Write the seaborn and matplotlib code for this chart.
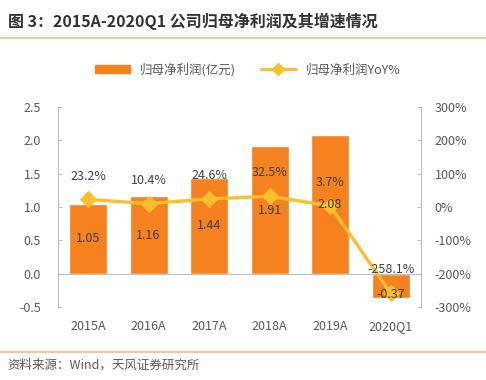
import numpy as np
import pandas as pd
import matplotlib
matplotlib.use("Agg")
import matplotlib.pyplot as plt
from matplotlib.ticker import FuncFormatter, MultipleLocator
from matplotlib.lines import Line2D
from matplotlib.patches import Patch
import seaborn as sns

years = ["2015A", "2016A", "2017A", "2018A", "2019A", "2020Q1"]
profit = [1.05, 1.16, 1.44, 1.91, 2.08, -0.37]
yoy = [23.2, 10.4, 24.6, 32.5, 3.7, -258.1]

BAR = "#F5821F"
LINE = "#FBBE2C"
GRAY = "#595959"
AXC = "#BFBFBF"

sns.set_style("white")
plt.rcParams["font.family"] = ["Noto Sans CJK SC", "DejaVu Sans"]

df = pd.DataFrame({"year": years, "profit": profit, "yoy": yoy})

fig = plt.figure(figsize=(4.86, 3.8), dpi=100)
ax = fig.add_axes([0.119, 0.192, 0.747, 0.526])

sns.barplot(data=df, x="year", y="profit", color=BAR, width=0.63,
            saturation=1, ax=ax)
ax.set_xlim(-0.5, 5.5)
ax.set_ylim(-0.5, 2.5)
ax.yaxis.set_major_locator(MultipleLocator(0.5))
ax.yaxis.set_major_formatter(FuncFormatter(lambda v, p: f"{v:.1f}"))
ax.set_xlabel("")
ax.set_ylabel("")

for s in ["top", "right"]:
    ax.spines[s].set_visible(False)
ax.spines["left"].set_color(AXC)
ax.spines["bottom"].set_color(AXC)
ax.spines["bottom"].set_position(("data", 0))
ax.tick_params(axis="y", direction="in", length=3, color=AXC,
               labelsize=9, labelcolor=GRAY, pad=12)
ax.tick_params(axis="x", which="major", length=0, labelsize=9,
               labelcolor=GRAY, pad=33)
ax.set_xticks(np.arange(0.5, 5, 1), minor=True)
ax.tick_params(axis="x", which="minor", direction="out", length=4, color=AXC)

ax2 = ax.twinx()
sns.lineplot(x=np.arange(len(years)), y=yoy, color=LINE, linewidth=2.4,
             marker="D", markersize=8, markeredgecolor=LINE, ax=ax2)
ax2.set_ylim(-300, 300)
ax2.yaxis.set_major_locator(MultipleLocator(100))
ax2.yaxis.set_major_formatter(FuncFormatter(lambda v, p: f"{v:.0f}%"))
for s in ["top", "left", "bottom"]:
    ax2.spines[s].set_visible(False)
ax2.spines["right"].set_color(AXC)
ax2.tick_params(axis="y", direction="in", length=3, color=AXC,
                labelsize=9, labelcolor=GRAY, pad=10)

# bar labels drawn on top of the line
for i, v in enumerate(profit):
    ypos = v / 2 if v > 0 else -0.31
    ax2.text(i, ypos, f"{v:.2f}", ha="center", va="center",
             fontsize=9, color="#404040", transform=ax.transData, zorder=5)

for i, v in enumerate(yoy):
    ax2.text(i, v + 70, f"{v:.1f}%", ha="center", va="center",
             fontsize=9, color="#404040", zorder=5)

handles = [Patch(facecolor=BAR, edgecolor=BAR),
           Line2D([0], [0], color=LINE, lw=2.2, marker="D", markersize=6)]
fig.legend(handles, ["归母净利润(亿元)", "归母净利润YoY%"], loc="center",
           bbox_to_anchor=(0.51, 0.817), ncol=2, frameon=False, fontsize=9,
           labelcolor=GRAY, handlelength=2.8, columnspacing=2.0)

fig.text(0.016, 0.945, "图 3：2015A-2020Q1 公司归母净利润及其增速情况",
         fontsize=11.5, fontweight="bold", color="#333333", va="center")
fig.add_artist(Line2D([0, 1], [0.9, 0.9], color="#F9B98A", lw=1.2))
fig.add_artist(Line2D([0, 1], [0.074, 0.074], color="#F9B98A", lw=1.2))
fig.text(0.016, 0.04, "资料来源：Wind，天风证券研究所", fontsize=9,
         color=GRAY, va="center")

fig.savefig("out.png", dpi=100)
